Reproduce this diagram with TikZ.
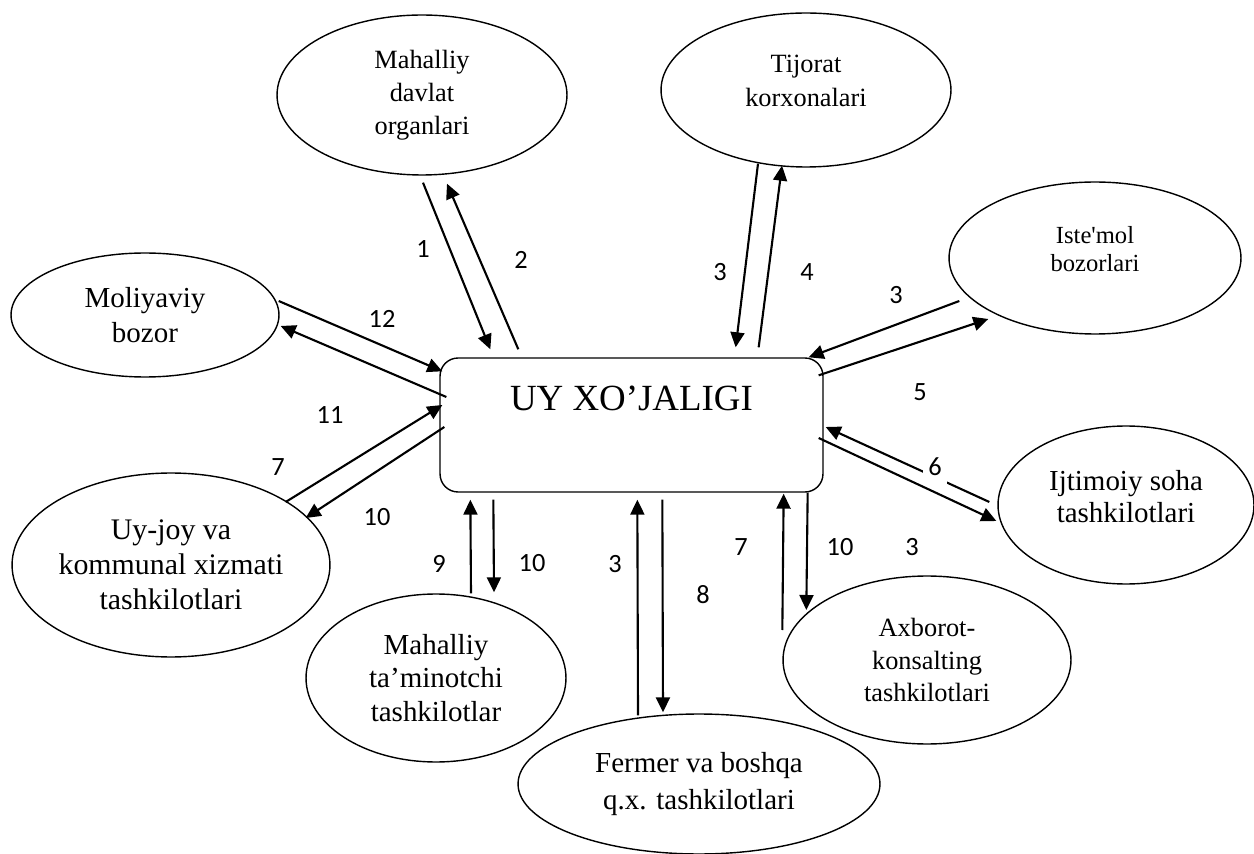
\documentclass[tikz,border=0pt]{standalone}
\usepackage{fontspec}
\setmainfont{Liberation Serif}
\newfontfamily\numfont{Carlito}
\usetikzlibrary{calc}
\usetikzlibrary{shapes.geometric}
\usetikzlibrary{arrows.meta}
\tikzset{
	org/.style={draw, ellipse, line width=0.8pt, inner sep=0pt, align=center},
	hhbox/.style={draw, rounded corners=0.36cm, line width=0.8pt, minimum width=7.66cm, minimum height=2.68cm, inner sep=0pt, text height=0.55cm, text depth=1.15cm, font=\fontsize{21}{25}\selectfont},
	flow/.style={-{Triangle[length=0.3cm,width=0.28cm]}, line width=1.2pt},
	num/.style={font=\numfont\fontsize{15}{18}\selectfont, inner sep=1pt},
}

\begin{document}
\begin{tikzpicture}[x=0.02cm, y=-0.02cm]
		\useasboundingbox (0,0) rectangle (1254,854);
		\node[hhbox] (hh) at (631.5,425) {UY XO’JALIGI};
		\node[org, minimum width=5.8cm, minimum height=3.2cm, font=\fontsize{15}{18.7}\selectfont] (md) at (422,95) {Mahalliy\\davlat\\organlari};
		\node[org, minimum width=5.8cm, minimum height=3.08cm, font=\fontsize{15}{19.3}\selectfont] (tk) at (806,90) {Tijorat\\korxonalari\\[-0.3cm]\mbox{}};
		\node[org, minimum width=5.84cm, minimum height=3.04cm, font=\fontsize{14}{16}\selectfont] (im) at (1095,258) {Iste\textquotesingle mol\\bozorlari\\[-0.2cm]\mbox{}};
		\node[org, minimum width=5.36cm, minimum height=2.48cm, font=\fontsize{16.5}{19.8}\selectfont] (mb) at (145,315) {Moliyaviy\\bozor};
		\node[org, minimum width=5.12cm, minimum height=3.16cm, font=\fontsize{16.5}{18.1}\selectfont] (is) at (1126,505) {Ijtimoiy soha\\tashkilotlari\\[-0.28cm]\mbox{}};
		\node[org, minimum width=6.24cm, minimum height=3.68cm, font=\fontsize{17}{19.8}\selectfont] (uj) at (171,565) {Uy-joy va\\kommunal xizmati\\tashkilotlari};
		\node[org, minimum width=5.2cm, minimum height=3.36cm, font=\fontsize{16.5}{19}\selectfont] (mt) at (436,678) {Mahalliy\\ta’minotchi\\tashkilotlar};
		\node[org, minimum width=7.24cm, minimum height=2.8cm, font=\fontsize{16.5}{21}\selectfont] (fb) at (699,784) {Fermer va boshqa\\q.x. tashkilotlari};
		\node[org, minimum width=5.76cm, minimum height=3.36cm, font=\fontsize{15}{18.4}\selectfont] (ak) at (927,660) {Axborot-\\konsalting\\tashkilotlari};
		% top
		\draw[flow] ($(md.south)+(1,7)$) -- ($(hh.north west)+(51,-8)$);
		\draw[flow] ($(hh.north west)+(79,-8)$) -- ($(md.south)+(25,8)$);
		\draw[flow] ($(tk.south)+(-48,-4)$) -- ($(hh.north east)+(-88,-10)$);
		\draw[flow] ($(hh.north east)+(-65,-10)$) -- ($(tk.south)+(-24,-2)$);
		% right
		\draw[flow] ($(im.west)+(11,43)$) -- ($(hh.north east)+(-15,0)$);
		\draw[flow] ($(hh.north east)+(-5,18)$) -- ($(im.west)+(40,61)$);
		\draw[flow] ($(is.west)+(-8,-3)$) -- ($(hh.east)+(2,2)$);
		\draw[flow] ($(hh.east)+(-5,13)$) -- ($(is.west)+(-1,16)$);
		% left
		\draw[flow] ($(mb.east)+(-1,-14)$) -- ($(hh.north west)+(3,14)$);
		\draw[flow] ($(hh.west)+(7,-28)$) -- ($(mb.east)+(1,11)$);
		\draw[flow] ($(uj.east)+(-45,-63)$) -- ($(hh.west)+(3,-20)$);
		\draw[flow] ($(hh.west)+(5,2)$) -- ($(uj.east)+(-25,-47)$);
		% bottom
		\draw[flow] ($(mt.north)+(35,0)$) -- ($(hh.south west)+(31,7)$);
		\draw[flow] ($(hh.south west)+(54,7)$) -- ($(mt.north)+(58,-1)$);
		\draw[flow] ($(fb.north)+(-61,2)$) -- ($(hh.south west)+(198,7)$);
		\draw[flow] ($(hh.south west)+(223,7)$) -- ($(fb.north)+(-36,-1)$);
		\draw[flow] ($(ak.west)+(0,-30)$) -- ($(hh.south east)+(-40,1)$);
		\draw[flow] ($(hh.south east)+(-16,0)$) -- ($(ak.west)+(24,-50)$);
		% numbers
		\node[num] (n1) at (423,249) {1};
		\node[num] (n2) at (521,260) {2};
		\node[num] (n3a) at (720,272) {3};
		\node[num] (n4) at (807,272) {4};
		\node[num] (n3b) at (896,295) {3};
		\node[num] (n5) at (920,392) {5};
		\node[num, fill=white, minimum width=0.48cm, minimum height=0.68cm] (n6) at (935,467) {6};
		\node[num] (n12) at (382,319) {12};
		\node[num] (n11) at (330,415) {11};
		\node[num] (n7a) at (278,467) {7};
		\node[num] (n10a) at (377,517) {10};
		\node[num] (n9) at (439,564) {9};
		\node[num] (n10b) at (532,563) {10};
		\node[num] (n3c) at (615,564) {3};
		\node[num] (n8) at (703,595) {8};
		\node[num] (n7b) at (741,547) {7};
		\node[num] (n10c) at (840,547) {10};
		\node[num] (n3d) at (912,547) {3};
\end{tikzpicture}
\end{document}
